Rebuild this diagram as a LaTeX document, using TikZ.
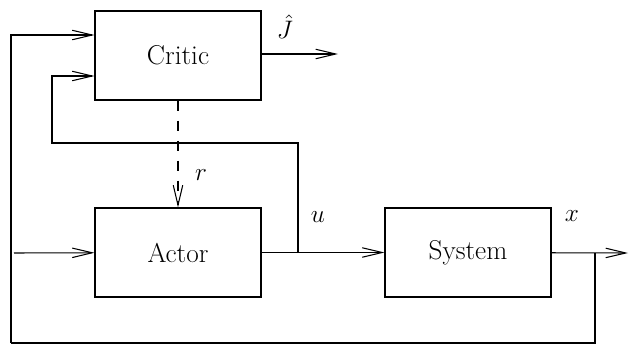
\documentclass[tikz,border=0pt]{standalone}
\usepackage{tikz}
\usetikzlibrary{arrows.meta}
\usetikzlibrary{calc}

\begin{document}
\begin{tikzpicture}[x=0.02cm,y=-0.02cm,->,>={Straight Barb[length=0.4cm,width=0.19cm]},line width=0.6pt]
	\tikzset{block/.style = {shape=rectangle, draw, minimum width=3.32cm, minimum height=1.78cm, font=\fontsize{15.5}{18}\selectfont},
		sig/.style = {font=\fontsize{15.5}{18}\selectfont}}
	\useasboundingbox (0,0) rectangle (629,345);
	
	\node[block] (CRITIC) at (178,55.5) {Critic};
	\node[block] (ACTOR) at (178,252.5) {Actor};
	\node[block] (SYSTEM) at (468,252.5) {System};
	
	\coordinate (IN) at (14,253);
	\coordinate (JOUT) at (338,54);
	\coordinate (XOUT) at (628,253);
	\coordinate (UJ) at (298,253);
	\coordinate (XJ) at (595,253);
	\coordinate (FB) at (11,343);
	\coordinate (LOOP) at (52,143);
	
	% signals
	\draw (CRITIC.east |- JOUT) -- (JOUT);
	\draw (IN) -- (ACTOR);
	\draw (ACTOR) -- (SYSTEM);
	\draw (SYSTEM) -- (XOUT);
	\draw[dashed,dash pattern=on 0.2cm off 0.2cm] (CRITIC) -- (ACTOR);
	
	% feedback to the critic
	\draw[-] (XJ) |- (FB);
	\draw (FB) |- ([yshift=0.41cm]CRITIC.west);
	\draw (UJ) |- (LOOP) |- ([yshift=-0.41cm]CRITIC.west);
	
	\node[sig] (JHAT) at (285,27) {$\hat{J}$};
	\node[sig] (R) at (201,175) {$r$};
	\node[sig] (U) at (318,217) {$u$};
	\node[sig] (X) at (572,216) {$x$};
\end{tikzpicture}
\end{document}
